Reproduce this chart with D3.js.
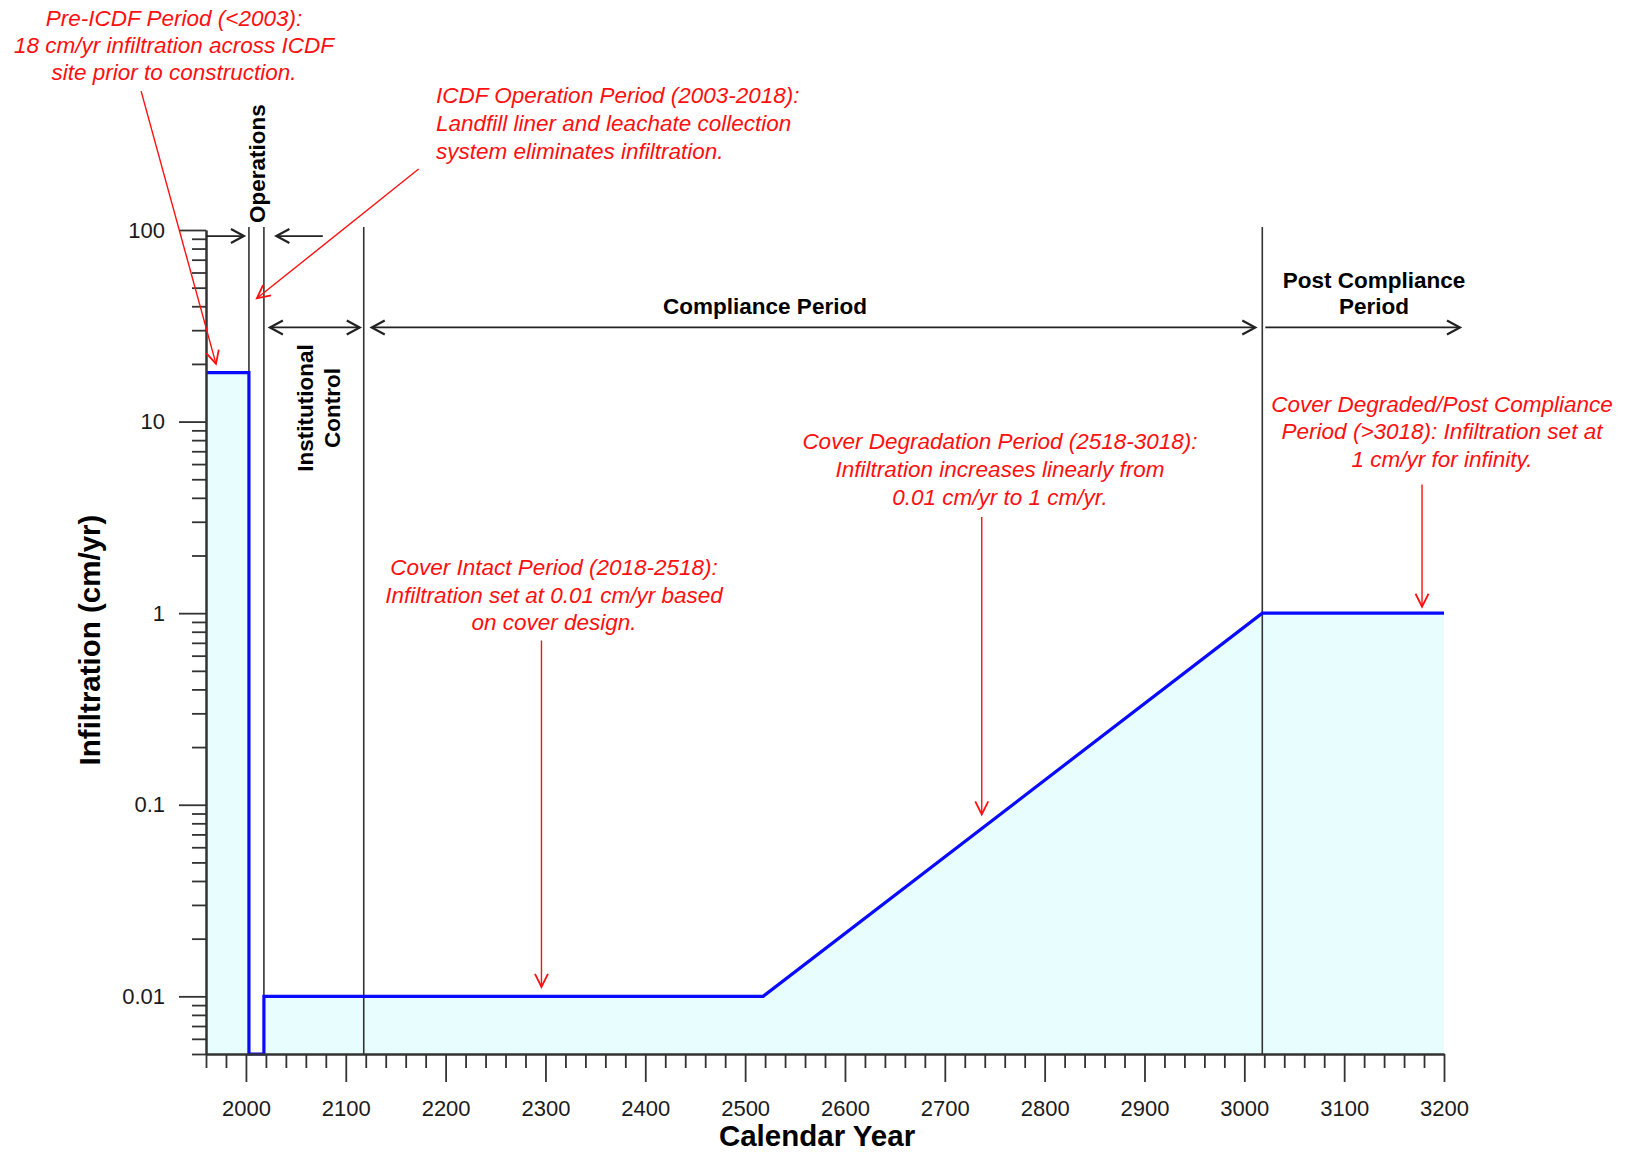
<!DOCTYPE html>
<html>
<head>
<meta charset="utf-8">
<script src="https://cdn.jsdelivr.net/npm/d3@7"></script>
<style>
  html, body { margin: 0; padding: 0; background: #ffffff; }
  svg { display: block; font-family: "Liberation Sans", Arial, sans-serif; }
</style>
</head>
<body>
<svg id="chart" width="1627" height="1153"></svg>
<script>
// Infiltration profile over the ICDF lifecycle (step / ramp history)
const profileYear = [1960, 2003, 2003, 2018, 2018, 2518, 3018, 3200];
const profileRate = [18, 18, 0.005, 0.005, 0.01, 0.01, 1, 1];

// Period boundaries drawn as thin vertical lines
const boundaryYears = [2003, 2018, 2118, 3018];

// Axis ticks
const yearTickValues = [2000, 2100, 2200, 2300, 2400, 2500, 2600, 2700, 2800, 2900, 3000, 3100, 3200];
const yearTickLabels = ["2000", "2100", "2200", "2300", "2400", "2500", "2600", "2700", "2800", "2900", "3000", "3100", "3200"];
const rateTickValues = [0.01, 0.1, 1, 10, 100];
const rateTickLabels = ["0.01", "0.1", "1", "10", "100"];

const svg = d3.select("#chart");
const W = 1627, H = 1153;
svg.append("rect").attr("width", W).attr("height", H).attr("fill", "#ffffff");

const x = d3.scaleLinear().domain([1960, 3200]).range([206, 1444]);
const y = d3.scaleLog().domain([0.005, 100]).range([1054, 230]);

const profile = profileYear.map((yr, i) => ({ year: yr, rate: profileRate[i] }));

// Shaded area under the infiltration curve
svg.append("path")
  .datum(profile)
  .attr("fill", "#e8fefe")
  .attr("d", d3.area().x(d => x(d.year)).y0(y(0.005)).y1(d => y(d.rate)));

// Period boundary lines
svg.append("g").selectAll("line")
  .data(boundaryYears)
  .join("line")
  .attr("x1", d => x(d)).attr("x2", d => x(d))
  .attr("y1", y(100) - 3).attr("y2", y(0.005))
  .attr("stroke", "#333").attr("stroke-width", 1.6);

// Infiltration curve
svg.append("path")
  .datum(profile)
  .attr("fill", "none")
  .attr("stroke", "#0a0aff")
  .attr("stroke-width", 3.2)
  .attr("stroke-linejoin", "miter")
  .attr("d", d3.line().x(d => x(d.year)).y(d => y(d.rate)));

// ---- Axes ----
const minorYears = d3.range(1960, 3201, 20).filter(v => v % 100 !== 0);
const minorRates = [];
for (let e = -3; e <= 1; e++) {
  for (let m = 2; m <= 9; m++) {
    const v = m * Math.pow(10, e);
    if (v >= 0.005 && v <= 100) minorRates.push(+v.toPrecision(3));
  }
}

const axisColor = "#333";

const xMinor = svg.append("g").attr("transform", `translate(0,${y(0.005)})`)
  .call(d3.axisBottom(x).tickValues(minorYears).tickSize(14).tickSizeOuter(0).tickFormat(""));
const xMajor = svg.append("g").attr("transform", `translate(0,${y(0.005)})`)
  .call(d3.axisBottom(x).tickValues(yearTickValues).tickSize(28).tickSizeOuter(0).tickPadding(18)
    .tickFormat((d, i) => yearTickLabels[i]));

const yMinor = svg.append("g").attr("transform", `translate(${x(1960)},0)`)
  .call(d3.axisLeft(y).tickValues(minorRates).tickSize(14).tickSizeOuter(0).tickFormat(""));
const yMajor = svg.append("g").attr("transform", `translate(${x(1960)},0)`)
  .call(d3.axisLeft(y).tickValues(rateTickValues).tickSize(27).tickSizeOuter(0).tickPadding(14)
    .tickFormat((d, i) => rateTickLabels[i]));

[xMinor, xMajor, yMinor, yMajor].forEach(g => {
  g.selectAll("path.domain").attr("stroke", axisColor).attr("stroke-width", 2);
  g.selectAll(".tick line").attr("stroke", axisColor).attr("stroke-width", 1.8);
  g.selectAll(".tick text")
    .attr("fill", "#1a1a1a")
    .attr("font-size", 22)
    .attr("font-family", "'Liberation Sans', Arial, sans-serif");
});

// Axis titles
svg.append("text")
  .attr("x", 817).attr("y", 1146)
  .attr("text-anchor", "middle")
  .attr("font-size", 29.5).attr("font-weight", "bold").attr("fill", "#000")
  .text("Calendar Year");

svg.append("text")
  .attr("transform", "translate(100,640) rotate(-90)")
  .attr("text-anchor", "middle")
  .attr("font-size", 29.5).attr("font-weight", "bold").attr("fill", "#000")
  .text("Infiltration (cm/yr)");

// ---- Arrow helper (open V heads) ----
function arrow(g, x1, y1, x2, y2, opts) {
  const o = Object.assign({ start: false, end: true, color: "#222", width: 1.8, len: 13, half: 7 }, opts || {});
  g.append("line")
    .attr("x1", x1).attr("y1", y1).attr("x2", x2).attr("y2", y2)
    .attr("stroke", o.color).attr("stroke-width", o.width);
  const head = (tx, ty, fx, fy) => {
    const dx = tx - fx, dy = ty - fy, L = Math.hypot(dx, dy);
    const ux = dx / L, uy = dy / L, px = -uy, py = ux;
    const bx = tx - ux * o.len, by = ty - uy * o.len;
    g.append("path")
      .attr("d", `M${bx + px * o.half},${by + py * o.half}L${tx},${ty}L${bx - px * o.half},${by - py * o.half}`)
      .attr("fill", "none").attr("stroke", o.color).attr("stroke-width", o.width + 0.4)
      .attr("stroke-linejoin", "miter");
  };
  if (o.end) head(x2, y2, x1, y1);
  if (o.start) head(x1, y1, x2, y2);
}

// ---- Period spans (black) ----
const spans = svg.append("g");
const spanY = y(31);
const opsY = y(93);
arrow(spans, x(1960), opsY, x(2003) - 5, opsY);
arrow(spans, x(2077), opsY, x(2030.5), opsY);
arrow(spans, x(2018) + 6, spanY, x(2118) - 4, spanY, { start: true });
arrow(spans, x(2118) + 8, spanY, x(3018) - 7, spanY, { start: true });
arrow(spans, x(3018) + 3, spanY, x(3216), spanY);

const boldLabel = (tx, ty, txt, rotate) => {
  const t = svg.append("text")
    .attr("font-size", 22.5).attr("font-weight", "bold").attr("fill", "#000")
    .text(txt);
  if (rotate) t.attr("transform", `translate(${tx},${ty}) rotate(-90)`);
  else t.attr("x", tx).attr("y", ty);
  return t;
};

boldLabel(765, 314, "Compliance Period").attr("text-anchor", "middle");
boldLabel(1374, 288, "Post Compliance").attr("text-anchor", "middle");
boldLabel(1374, 314, "Period").attr("text-anchor", "middle");
boldLabel(265, 223, "Operations", true).attr("text-anchor", "start");
boldLabel(313, 408, "Institutional", true).attr("text-anchor", "middle");
boldLabel(340, 408, "Control", true).attr("text-anchor", "middle");

// ---- Red annotations ----
const red = "#ff1010";
const notes = svg.append("g");

function noteBlock(lines, tx, baselines, anchor) {
  const t = notes.append("text")
    .attr("font-size", 22.5).attr("font-style", "italic").attr("fill", red)
    .attr("text-anchor", anchor);
  lines.forEach((ln, i) => {
    t.append("tspan").attr("x", tx).attr("y", baselines[i]).text(ln);
  });
}

noteBlock(["Pre-ICDF Period (<2003):", "18 cm/yr infiltration across ICDF", "site prior to construction."],
  174, [26, 53, 80], "middle");
noteBlock(["ICDF Operation Period (2003-2018):", "Landfill liner and leachate collection", "system eliminates infiltration."],
  436, [103, 131, 159], "start");
noteBlock(["Cover Intact Period (2018-2518):", "Infiltration set at 0.01 cm/yr based", "on cover design."],
  554, [575, 603, 630], "middle");
noteBlock(["Cover Degradation Period (2518-3018):", "Infiltration increases linearly from", "0.01 cm/yr to 1 cm/yr."],
  1000, [449, 477, 505], "middle");
noteBlock(["Cover Degraded/Post Compliance", "Period (>3018): Infiltration set at", "1 cm/yr for infinity."],
  1442, [412, 439, 467], "middle");

const redOpts = { color: red, width: 1.4, len: 13, half: 6.5 };
// callout arrows: tail and tip expressed in (year, cm/yr)
const callouts = [
  { from: [1895, 531], to: [1970, 20] },
  { from: [2173, 208], to: [2011, 44] },
  { from: [2296, 0.72], to: [2296, 0.0112] },
  { from: [2737, 3.18], to: [2737, 0.089] },
  { from: [3178, 4.7], to: [3178, 1.08] }
];
callouts.forEach(c => {
  arrow(notes, x(c.from[0]), y(c.from[1]), x(c.to[0]), y(c.to[1]), redOpts);
});
</script>
</body>
</html>
